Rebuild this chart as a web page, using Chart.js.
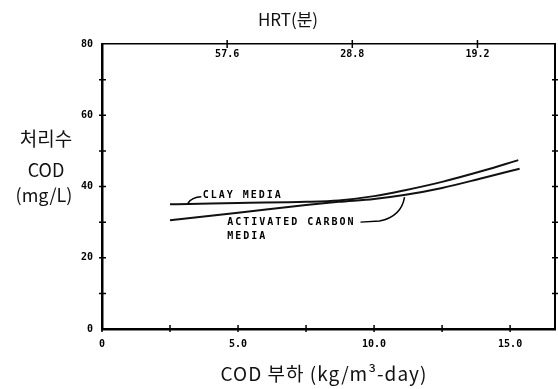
<!DOCTYPE html>
<html>
<head>
<meta charset="utf-8">
<script src="https://cdn.jsdelivr.net/npm/chart.js@4.4.1/dist/chart.umd.min.js"></script>
<style>
  body { margin: 0; background: #fff; }
</style>
</head>
<body>
<canvas id="codChart" width="558" height="389"></canvas>
<script>
// COD load (kg/m3-day) vs effluent COD (mg/L)
const clayLoad   = [2.5, 3.2, 5.0, 7.5, 8.7, 10.0, 11.1, 12.5, 14.0, 15.3];
const clayCod    = [35.0, 35.1, 35.4, 35.7, 36.1, 37.3, 38.9, 41.3, 44.4, 47.4];
const carbonLoad = [2.5, 5.0, 7.5, 8.7, 10.0, 11.1, 12.5, 14.0, 15.35];
const carbonCod  = [30.5, 32.6, 34.8, 35.7, 36.5, 37.6, 39.6, 42.4, 45.0];

const loadTicks  = [0, 2.5, 5, 7.5, 10, 12.5, 15];
const loadLabels = { 0: '0', 5: '5.0', 10: '10.0', 15: '15.0' };
const hrtTicks   = [4.6, 9.2, 13.8];
const hrtLabels  = ['57.6', '28.8', '19.2'];
const codTicks   = [0, 10, 20, 30, 40, 50, 60, 70, 80];

const LOAD_MAX = 16.65;
const tickFont = { family: 'DejaVu Sans Mono', size: 10, weight: 'bold' };

function pairs(xs, ys) {
    return xs.map((x, i) => ({ x: x, y: ys[i] }));
}

// little "+" shaped ticks across each frame line, and all the loose text
const decorations = {
    id: 'decorations',
    afterDraw(chart) {
        const ctx = chart.ctx;
        const xs = chart.scales.x, ys = chart.scales.y;
        const area = chart.chartArea;
        ctx.save();
        ctx.strokeStyle = '#000';
        ctx.lineWidth = 1.5;

        loadTicks.forEach(v => {
            const px = xs.getPixelForValue(v);
            ctx.beginPath();
            ctx.moveTo(px, area.bottom - 4);
            ctx.lineTo(px, area.bottom + 3);
            ctx.stroke();
        });
        hrtTicks.forEach(v => {
            const px = xs.getPixelForValue(v);
            ctx.beginPath();
            ctx.moveTo(px, area.top - 4);
            ctx.lineTo(px, area.top + 4);
            ctx.stroke();
        });
        codTicks.slice(1, -1).forEach(v => {
            const py = ys.getPixelForValue(v);
            ctx.beginPath();
            ctx.moveTo(area.left - 3, py);
            ctx.lineTo(area.left + 4, py);
            ctx.moveTo(area.right - 3, py);
            ctx.lineTo(area.right + 3, py);
            ctx.stroke();
        });

        // top HRT labels sit just under the top frame line
        ctx.fillStyle = '#000';
        ctx.font = 'bold 10px "DejaVu Sans Mono"';
        ctx.textAlign = 'center';
        ctx.textBaseline = 'middle';
        hrtTicks.forEach((v, i) => {
            ctx.fillText(hrtLabels[i], xs.getPixelForValue(v), area.top + 10);
        });

        // axis titles
        ctx.fillStyle = '#111';
        ctx.font = '17px "Noto Sans CJK KR"';
        ctx.fillText('HRT(분)', 288, 20);
        ctx.font = '19px "Noto Sans CJK KR"';
        ctx.letterSpacing = '1px';
        ctx.fillText('COD 부하 (kg/m³-day)', 324, 374);
        ctx.letterSpacing = '0px';
        ctx.font = '19px "Noto Sans CJK KR"';
        ctx.fillText('처리수', 46, 139);
        ctx.font = '18px "Noto Sans CJK KR"';
        ctx.fillText('COD', 46, 170);
        ctx.fillText('(mg/L)', 44, 195);

        // curve labels with their leader lines
        ctx.lineWidth = 1.5;
        ctx.strokeStyle = '#000';
        ctx.beginPath();
        ctx.moveTo(xs.getPixelForValue(3.16), ys.getPixelForValue(35.3));
        ctx.quadraticCurveTo(xs.getPixelForValue(3.3), ys.getPixelForValue(37.0),
                             xs.getPixelForValue(3.65), ys.getPixelForValue(37.1));
        ctx.stroke();

        ctx.beginPath();
        ctx.moveTo(xs.getPixelForValue(9.5), ys.getPixelForValue(30.0));
        ctx.lineTo(xs.getPixelForValue(10.2), ys.getPixelForValue(30.3));
        ctx.quadraticCurveTo(xs.getPixelForValue(11.0), ys.getPixelForValue(31.5),
                             xs.getPixelForValue(11.12), ys.getPixelForValue(37.0));
        ctx.stroke();

        ctx.fillStyle = '#000';
        ctx.font = 'bold 10px "DejaVu Sans Mono"';
        ctx.letterSpacing = '2px';
        ctx.textAlign = 'left';
        ctx.fillText('CLAY MEDIA', xs.getPixelForValue(3.7), ys.getPixelForValue(37.5));
        ctx.fillText('ACTIVATED CARBON', xs.getPixelForValue(4.6), ys.getPixelForValue(30.0));
        ctx.fillText('MEDIA', xs.getPixelForValue(4.6), ys.getPixelForValue(26.1));
        ctx.restore();
    }
};

const ctx = document.getElementById('codChart').getContext('2d');
Chart.defaults.color = '#000';

const codChart = new Chart(ctx, {
    type: 'line',
    data: {
        datasets: [{
            label: 'CLAY MEDIA',
            data: pairs(clayLoad, clayCod),
            borderColor: '#111',
            borderWidth: 2,
            pointRadius: 0,
            cubicInterpolationMode: 'monotone'
        }, {
            label: 'ACTIVATED CARBON MEDIA',
            data: pairs(carbonLoad, carbonCod),
            borderColor: '#111',
            borderWidth: 2,
            pointRadius: 0,
            cubicInterpolationMode: 'monotone'
        }]
    },
    options: {
        responsive: false,
        animation: false,
        layout: { padding: 0 },
        plugins: {
            legend: { display: false },
            tooltip: { enabled: false }
        },
        scales: {
            x: {
                type: 'linear',
                position: 'bottom',
                min: 0,
                max: LOAD_MAX,
                afterBuildTicks: s => { s.ticks = loadTicks.map(v => ({ value: v })); },
                afterFit: s => { s.height = 60; },
                ticks: {
                    font: tickFont,
                    padding: 9,
                    maxRotation: 0,
                    autoSkip: false,
                    callback: v => (loadLabels[v] !== undefined ? loadLabels[v] : '')
                },
                grid: { drawOnChartArea: false, drawTicks: false },
                border: { color: '#000', width: 2.5 }
            },
            x2: {
                type: 'linear',
                position: 'top',
                min: 0,
                max: LOAD_MAX,
                afterFit: s => { s.height = 44; },
                ticks: { display: false },
                grid: { drawOnChartArea: false, drawTicks: false },
                border: { color: '#000', width: 1.5 }
            },
            y: {
                type: 'linear',
                position: 'left',
                min: 0,
                max: 80,
                afterBuildTicks: s => { s.ticks = codTicks.map(v => ({ value: v })); },
                afterFit: s => { s.width = 102; },
                ticks: {
                    font: tickFont,
                    padding: 9,
                    callback: v => (v % 20 === 0 ? String(v) : '')
                },
                grid: { drawOnChartArea: false, drawTicks: false },
                border: { color: '#000', width: 2.5 }
            },
            y2: {
                type: 'linear',
                position: 'right',
                min: 0,
                max: 80,
                afterFit: s => { s.width = 3; },
                ticks: { display: false },
                grid: { drawOnChartArea: false, drawTicks: false },
                border: { color: '#000', width: 2 }
            }
        }
    },
    plugins: [decorations]
});
</script>
</body>
</html>
